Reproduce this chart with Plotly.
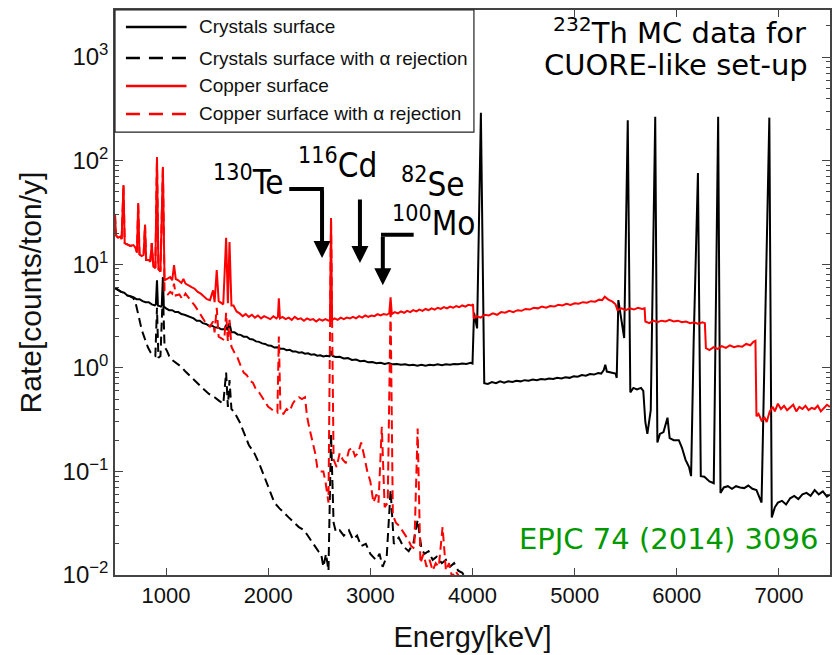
import plotly.graph_objects as go

# ---------------- spectra (energy in keV, rate in counts/ton/y) ----------------
cry_E = [500, 530, 560, 590, 620, 650, 680, 710, 740, 770, 800, 830, 860, 890, 900, 911, 920, 950, 958, 969, 978,
         1000, 1030, 1060, 1090, 1120, 1150, 1180, 1210, 1240, 1270, 1300, 1330, 1360, 1390, 1420, 1450, 1480,
         1510, 1540, 1570, 1588, 1600, 1621, 1640, 1670, 1700, 1730, 1760, 1790, 1820, 1850, 1880, 1910, 1940,
         1970, 2000, 2030, 2060, 2090, 2120, 2150, 2180, 2210, 2240, 2270, 2300, 2330, 2360, 2390, 2420, 2450,
         2480, 2510, 2540, 2570, 2600, 2615, 2630, 2660, 2700, 2740, 2780, 2820, 2860, 2900, 2940, 2980, 3020,
         3060, 3100, 3140, 3180, 3220, 3260, 3300, 3340, 3380, 3420, 3460, 3500, 3540, 3580, 3620, 3660, 3700,
         3740, 3780, 3820, 3860, 3900, 3940, 3980, 4000, 4015, 4045, 4082, 4115, 4150, 4190, 4230, 4270, 4310,
         4350, 4390, 4430, 4470, 4510, 4550, 4590, 4630, 4670, 4710, 4750, 4790, 4830, 4870, 4910, 4950, 4990,
         5030, 5070, 5110, 5150, 5190, 5230, 5260, 5285, 5300, 5315, 5360, 5400, 5412, 5428, 5485, 5520, 5545,
         5575, 5610, 5650, 5672, 5692, 5712, 5745, 5789, 5810, 5835, 5870, 5909, 5930, 5970, 6020, 6050, 6085,
         6120, 6140, 6165, 6207, 6235, 6270, 6320, 6362, 6405, 6428, 6460, 6500, 6540, 6580, 6620, 6660, 6700,
         6740, 6780, 6830, 6906, 6930, 6960, 6990, 7030, 7070, 7110, 7150, 7190, 7230, 7270, 7310, 7350, 7390,
         7430, 7470, 7500]
cry_R = [5.9, 5.6, 5.4, 5.3, 5.0, 4.9, 4.8, 4.6, 4.6, 4.4, 4.3, 4.3, 4.1, 4.0, 4.1, 7.0, 4.0, 3.9, 4.0, 7.5, 3.9,
         3.75, 3.6, 3.6, 3.45, 3.45, 3.3, 3.25, 3.15, 3.05, 3.0, 2.85, 2.85, 2.7, 2.65, 2.55, 2.55, 2.45,
         2.45, 2.35, 2.35, 2.6, 2.3, 2.7, 2.2, 2.2, 2.1, 2.08, 2.0, 2.0, 1.9, 1.88, 1.8, 1.78, 1.72,
         1.7, 1.64, 1.63, 1.57, 1.58, 1.53, 1.53, 1.48, 1.49, 1.44, 1.44, 1.40, 1.41, 1.37, 1.38, 1.34, 1.35,
         1.31, 1.32, 1.29, 1.31, 1.29, 1.45, 1.3, 1.27, 1.28, 1.23, 1.24, 1.19, 1.2, 1.16, 1.17, 1.13, 1.14,
         1.11, 1.12, 1.09, 1.11, 1.08, 1.09, 1.07, 1.08, 1.06, 1.07, 1.05, 1.07, 1.05, 1.07, 1.06, 1.08, 1.06,
         1.08, 1.07, 1.09, 1.08, 1.1, 1.09, 1.12, 1.1, 3.4, 2.4, 290, 0.71, 0.7, 0.73, 0.71, 0.74, 0.72,
         0.74, 0.73, 0.75, 0.74, 0.76, 0.75, 0.77, 0.76, 0.78, 0.77, 0.79, 0.78, 0.8, 0.79, 0.81, 0.8, 0.83,
         0.82, 0.85, 0.84, 0.87, 0.86, 0.89, 0.88, 0.95, 1.07, 0.92, 0.9, 0.88, 0.8, 4.5, 1.94, 245, 0.58,
         0.64, 0.62, 0.64, 0.6, 0.3, 0.23, 0.39, 265, 0.19, 0.23, 0.24, 0.33, 0.21, 0.2, 0.2, 0.17, 0.13,
         0.11, 0.09, 1.75, 76, 0.09, 0.089, 0.08, 0.077, 265, 0.062, 0.07, 0.072, 0.068, 0.072, 0.07, 0.069, 0.073,
         0.068, 0.066, 0.05, 260, 0.036, 0.045, 0.05, 0.052, 0.048, 0.055, 0.058, 0.054, 0.06, 0.062, 0.058, 0.066,
         0.06, 0.064, 0.057, 0.06]

cry_rej_E = [500, 530, 560, 590, 620, 650, 680, 700, 715, 740, 763, 790, 822, 850, 870, 895, 911, 925, 945, 969,
             985, 1010, 1030, 1055, 1080, 1110, 1150, 1190, 1230, 1280, 1330, 1377, 1420, 1475, 1520, 1560, 1588,
             1605, 1621, 1640, 1670, 1720, 1767, 1810, 1864, 1910, 1962, 2010, 2060, 2110, 2157, 2200, 2254, 2300,
             2352, 2400, 2450, 2490, 2518, 2540, 2566, 2590, 2615, 2640, 2663, 2700, 2740, 2790, 2830, 2870, 2910,
             2956, 3000, 3054, 3090, 3120, 3160, 3198, 3230, 3278, 3320, 3375, 3420, 3463, 3500, 3530, 3570, 3610,
             3650, 3700, 3740, 3780, 3820, 3860, 3900, 3940]
cry_rej_R = [5.9, 5.6, 5.4, 5.3, 5.0, 4.9, 4.7, 4.3, 3.6, 2.9, 2.3, 1.9, 1.58, 1.4, 1.33, 1.3, 3.8, 1.25, 1.3, 5.5,
             1.6, 1.45, 1.3, 1.2, 1.15, 1.1, 1.02, 0.92, 0.84, 0.76, 0.68, 0.61, 0.56, 0.52, 0.48, 0.45, 0.9,
             0.42, 0.76, 0.4, 0.37, 0.3, 0.23, 0.18, 0.15, 0.12, 0.089, 0.067, 0.05, 0.044, 0.04, 0.036, 0.032, 0.029,
             0.027, 0.023, 0.02, 0.017, 0.016, 0.012, 0.016, 0.011, 0.23, 0.032, 0.026, 0.027, 0.024, 0.027, 0.022,
             0.024, 0.019, 0.02, 0.016, 0.014, 0.016, 0.012, 0.015, 0.066, 0.02, 0.023, 0.019, 0.017, 0.02, 0.034,
             0.018, 0.016, 0.017, 0.014, 0.015, 0.013, 0.014, 0.012, 0.013, 0.011, 0.0105, 0.009]

cu_E = [500, 510, 530, 550, 565, 583, 595, 620, 650, 680, 700, 715, 727, 740, 760, 780, 794, 805, 830, 845, 860,
        875, 895, 911, 925, 945, 969, 985, 1010, 1040, 1060, 1078, 1095, 1120, 1150, 1170, 1190, 1220, 1250,
        1280, 1310, 1340, 1370, 1400, 1430, 1460, 1475, 1496, 1515, 1540, 1560, 1588, 1605, 1621, 1640, 1660,
        1690, 1720, 1750, 1780, 1810, 1840, 1870, 1900, 1930, 1960, 1990, 2020, 2050, 2080, 2095, 2104, 2115,
        2140, 2170, 2200, 2230, 2260, 2290, 2320, 2350, 2380, 2410, 2440, 2470, 2500, 2530, 2560, 2590, 2605,
        2615, 2625, 2650, 2680, 2710, 2740, 2770, 2800, 2830, 2860, 2890, 2920, 2950, 2980, 3010, 3040, 3070,
        3100, 3130, 3160, 3185, 3198, 3210, 3240, 3270, 3300, 3330, 3360, 3390, 3420, 3450, 3480, 3510, 3540,
        3570, 3600, 3630, 3660, 3690, 3720, 3750, 3780, 3810, 3840, 3870, 3900, 3930, 3960, 3990, 4005, 4012,
        4040, 4080, 4120, 4160, 4200, 4240, 4280, 4320, 4360, 4400, 4440, 4480, 4520, 4560, 4600, 4640, 4680,
        4720, 4760, 4800, 4840, 4880, 4920, 4960, 5000, 5040, 5080, 5120, 5160, 5200, 5240, 5270, 5295, 5330,
        5370, 5400, 5420, 5460, 5500, 5540, 5580, 5620, 5660, 5685, 5692, 5730, 5770, 5810, 5850, 5890, 5930,
        5970, 6010, 6050, 6090, 6130, 6170, 6210, 6250, 6275, 6285, 6320, 6360, 6400, 6440, 6480, 6520, 6560,
        6600, 6640, 6680, 6720, 6750, 6770, 6780, 6800, 6830, 6860, 6880, 6910, 6940, 6960, 6990, 7020, 7050,
        7080, 7110, 7140, 7170, 7200, 7230, 7260, 7290, 7320, 7350, 7380, 7410, 7440, 7470, 7500]
cu_R = [30, 19, 18, 18.5, 17.5, 58, 16, 15.5, 15, 15.3, 14.5, 13, 39, 12.5, 12, 12.3, 24, 11, 11, 10.5, 16,
        9.5, 9.2, 108, 9, 8.5, 87, 7, 7.2, 7.5, 7, 9.8, 7.2, 7.0, 6.6, 7.2, 6.5, 6.2, 6.0,
        5.8, 5.4, 5.2, 4.9, 4.6, 4.5, 5.6, 4.3, 8.8, 4.4, 4.2, 4.1, 18, 4.2, 16.4, 4.0, 4.0,
        3.5, 3.35, 3.15, 3.3, 3.1, 3.25, 3.05, 3.2, 3.0, 3.15, 3.05, 2.95, 3.15, 3.0, 3.1, 4.7, 3.0,
        3.1, 2.95, 3.05, 2.9, 3.1, 2.95, 3.0, 2.85, 3.0, 2.9, 2.95, 2.8, 2.95, 2.85, 2.95, 2.85, 2.9,
        28, 2.9, 3.0, 2.9, 3.05, 2.95, 3.05, 3.0, 3.1, 3.0, 3.15, 3.05, 3.2, 3.1, 3.2, 3.15, 3.3,
        3.2, 3.3, 3.25, 3.35, 4.8, 3.3, 3.45, 3.35, 3.5, 3.4, 3.55, 3.45, 3.6, 3.5, 3.65, 3.55, 3.7,
        3.6, 3.75, 3.65, 3.8, 3.7, 3.85, 3.75, 3.9, 3.8, 3.95, 3.85, 4.0, 3.9, 4.05, 4.0, 4.1, 3.0,
        3.15, 3.05, 3.25, 3.2, 3.35, 3.25, 3.45, 3.4, 3.55, 3.45, 3.6, 3.55, 3.7, 3.65, 3.8, 3.75, 3.9,
        3.8, 3.95, 3.9, 4.05, 4.0, 4.15, 4.05, 4.2, 4.15, 4.3, 4.25, 4.4, 4.35, 4.55, 4.5, 4.85, 4.55,
        4.35, 4.1, 3.6, 3.75, 3.6, 3.75, 3.65, 3.8, 3.7, 3.75, 2.8, 2.7, 2.85, 2.75, 2.85, 2.8, 2.9,
        2.8, 2.85, 2.75, 2.8, 2.7, 2.75, 2.65, 2.75, 2.7, 1.55, 1.48, 1.58, 1.52, 1.62, 1.56, 1.65, 1.58,
        1.62, 1.6, 1.7, 1.65, 1.78, 1.82, 0.34, 0.36, 0.31, 0.33, 0.3, 0.38, 0.42, 0.38, 0.45, 0.4, 0.43,
        0.39, 0.41, 0.44, 0.38, 0.42, 0.4, 0.43, 0.39, 0.41, 0.40, 0.43, 0.38, 0.41, 0.44, 0.42]

cu_rej_E = [500, 510, 530, 550, 565, 583, 595, 620, 650, 680, 700, 715, 727, 740, 760, 780, 794, 805, 830, 845,
            860, 875, 895, 911, 925, 945, 969, 985, 1010, 1040, 1060, 1078, 1095, 1130, 1160, 1190, 1220, 1250,
            1280, 1310, 1340, 1370, 1400, 1430, 1460, 1475, 1496, 1515, 1545, 1570, 1588, 1605, 1621, 1640, 1670,
            1700, 1730, 1760, 1790, 1820, 1850, 1880, 1910, 1940, 1970, 2000, 2030, 2060, 2090, 2104, 2120, 2150,
            2180, 2210, 2240, 2270, 2300, 2330, 2360, 2380, 2400, 2430, 2460, 2480, 2510, 2540, 2560, 2590, 2615,
            2640, 2670, 2700, 2730, 2760, 2790, 2820, 2850, 2880, 2910, 2940, 2970, 3000, 3030, 3060, 3080, 3112,
            3140, 3170, 3198, 3220, 3250, 3280, 3310, 3340, 3370, 3400, 3430, 3463, 3490, 3520, 3550, 3580, 3610,
            3640, 3670, 3707, 3740, 3770, 3800, 3830, 3860, 3900, 3930]
cu_rej_R = [30, 19, 18, 18.5, 17.5, 58, 16, 15.5, 15, 15.3, 14.5, 13, 39, 12.5, 12, 12.3, 24, 11, 11, 10.5,
            16, 9.5, 9.2, 108, 9, 8.5, 87, 5.5, 5.0, 5.4, 5.2, 6.5, 5.0, 5.1, 4.6, 5.2, 4.8, 4.4,
            4.0, 3.6, 3.2, 2.9, 2.6, 2.5, 2.8, 2.2, 3.8, 2.0, 1.9, 1.85, 3.4, 1.8, 2.9, 1.6, 1.4,
            1.25, 1.05, 0.9, 0.85, 0.75, 0.72, 0.62, 0.58, 0.52, 0.46, 0.42, 0.4, 0.38, 0.37, 2.0, 0.37, 0.36,
            0.4, 0.38, 0.45, 0.5, 0.52, 0.5, 0.52, 0.34, 0.27, 0.2, 0.15, 0.11, 0.1, 0.1, 0.08, 0.05, 28,
            0.13, 0.11, 0.15, 0.13, 0.12, 0.16, 0.17, 0.14, 0.15, 0.19, 0.14, 0.1, 0.08, 0.05, 0.06, 0.05, 0.27,
            0.045, 0.05, 4.0, 0.038, 0.032, 0.03, 0.027, 0.025, 0.022, 0.019, 0.018, 0.26, 0.013, 0.016, 0.012,
            0.014, 0.011, 0.013, 0.012, 0.029, 0.011, 0.013, 0.0095, 0.011, 0.01, 0.009, 0.008]

series_names = ["Crystals surface", "Crystals surface with \u03b1 rejection",
                "Copper surface", "Copper surface with \u03b1 rejection"]
series_colors = ["#000000", "#000000", "#ff0000", "#ff0000"]
series_dash = ["solid", "9px,5px", "solid", "9px,5px"]

# decay labels and where their arrows point (keV)
iso_labels = ["<sup>130</sup>Te", "<sup>116</sup>Cd", "<sup>82</sup>Se", "<sup>100</sup>Mo"]
arrow_E = {"Te": 2527, "Cd": 2898, "Mo": 3122}

y_tickvals = [1e-2, 1e-1, 1e0, 1e1, 1e2, 1e3]
y_ticktext = ["10<sup>\u22122</sup>", "10<sup>\u22121</sup>", "10<sup>0</sup>",
              "10<sup>1</sup>", "10<sup>2</sup>", "10<sup>3</sup>"]
x_tickvals = [1000, 2000, 3000, 4000, 5000, 6000, 7000]

fig = go.Figure()
data = [(cry_E, cry_R), (cry_rej_E, cry_rej_R), (cu_E, cu_R), (cu_rej_E, cu_rej_R)]
for (E, R), name, col, dash in zip(data, series_names, series_colors, series_dash):
    fig.add_trace(go.Scatter(x=E, y=R, mode="lines", name=name, showlegend=False,
                             line=dict(color=col, width=2, dash=dash)))

axis_col = "#444444"
minor_y = [m * 10.0 ** k for k in range(-2, 4) for m in range(2, 10)]

fig.update_xaxes(range=[500, 7500], tickmode="array", tickvals=x_tickvals,
                 ticks="inside", ticklen=7, tickcolor=axis_col, tickwidth=1.2,
                 showline=True, linecolor=axis_col, linewidth=1.5, mirror="ticks",
                 showgrid=False, zeroline=False,
                 tickfont=dict(family="Liberation Sans", size=22, color="#111111"),
                 title=dict(text="Energy[keV]", standoff=20,
                            font=dict(family="Liberation Sans", size=29, color="#111111")))
fig.update_yaxes(type="log", range=[-2, 3.454], tickmode="array", tickvals=y_tickvals,
                 ticktext=y_ticktext, ticks="inside", ticklen=8, tickcolor=axis_col, tickwidth=1.2,
                 minor=dict(tickmode="array", tickvals=minor_y, ticks="inside", ticklen=4,
                            tickcolor=axis_col, showgrid=False),
                 showline=True, linecolor=axis_col, linewidth=1.5, mirror="ticks",
                 showgrid=False, zeroline=False,
                 tickfont=dict(family="Liberation Sans", size=24, color="#111111"),
                 title=dict(text="Rate[counts/ton/y]", standoff=12,
                            font=dict(family="Liberation Sans", size=30, color="#111111")))

shapes = []
annotations = []

# legend box
shapes.append(dict(type="rect", xref="paper", yref="paper", x0=0, x1=0.502, y0=0.784, y1=1.0,
                   fillcolor="white", line=dict(color="#222222", width=1.2), layer="above"))
legend_y = [0.970, 0.915, 0.8655, 0.816]
legend_dash = ["solid", "14px,9px", "solid", "14px,9px"]
for yy, name, col, dash in zip(legend_y, series_names, series_colors, legend_dash):
    shapes.append(dict(type="line", xref="paper", yref="paper", x0=0.0153, x1=0.1, y0=yy, y1=yy,
                       line=dict(color=col, width=2.6, dash=dash), layer="above"))
    annotations.append(dict(text=name, xref="paper", yref="paper", x=0.115, y=yy,
                            xanchor="left", yanchor="middle", showarrow=False,
                            font=dict(family="Liberation Sans", size=19, color="#111111")))

big = dict(family="DejaVu Sans Condensed", size=33, color="black")
iso_pos = [(0.1855, 0.699), (0.311, 0.729), (0.445, 0.694), (0.446, 0.625)]
for lab, (xx, yy) in zip(iso_labels, iso_pos):
    annotations.append(dict(text=lab, xref="paper", yref="paper", x=xx, y=yy,
                            xanchor="center", yanchor="middle", showarrow=False, font=big))

# arrows
arrow_specs = [(arrow_E["Te"], 0.561, -69), (arrow_E["Cd"], 0.552, -65), (arrow_E["Mo"], 0.513, -50)]
for xx, yy, ay in arrow_specs:
    annotations.append(dict(text="", x=xx, y=yy, xref="x", yref="paper", ax=0, ay=ay,
                            showarrow=True, arrowhead=2, arrowsize=0.85, arrowwidth=4,
                            arrowcolor="black"))
shapes.append(dict(type="line", xref="x", yref="paper", x0=2206, x1=arrow_E["Te"] + 18,
                   y0=0.683, y1=0.683, line=dict(color="black", width=4), layer="above"))
shapes.append(dict(type="line", xref="x", yref="paper", x0=arrow_E["Mo"] - 18, x1=3424,
                   y0=0.602, y1=0.602, line=dict(color="black", width=4), layer="above"))

side = dict(family="DejaVu Sans", size=29, color="black")
annotations.append(dict(text="<sup>232</sup>Th MC data for", xref="paper", yref="paper",
                        x=0.789, y=0.962, xanchor="center", yanchor="middle", showarrow=False, font=side))
annotations.append(dict(text="CUORE-like set-up", xref="paper", yref="paper",
                        x=0.785, y=0.902, xanchor="center", yanchor="middle", showarrow=False, font=side))
annotations.append(dict(text="EPJC 74 (2014) 3096", xref="paper", yref="paper",
                        x=0.774, y=0.0637, xanchor="center", yanchor="middle", showarrow=False,
                        font=dict(family="DejaVu Sans", size=29, color="#009900")))

fig.update_layout(width=833, height=655, margin=dict(l=115, r=1, t=10, b=80),
                  plot_bgcolor="white", paper_bgcolor="white",
                  shapes=shapes, annotations=annotations)

fig.write_html("out.html")
